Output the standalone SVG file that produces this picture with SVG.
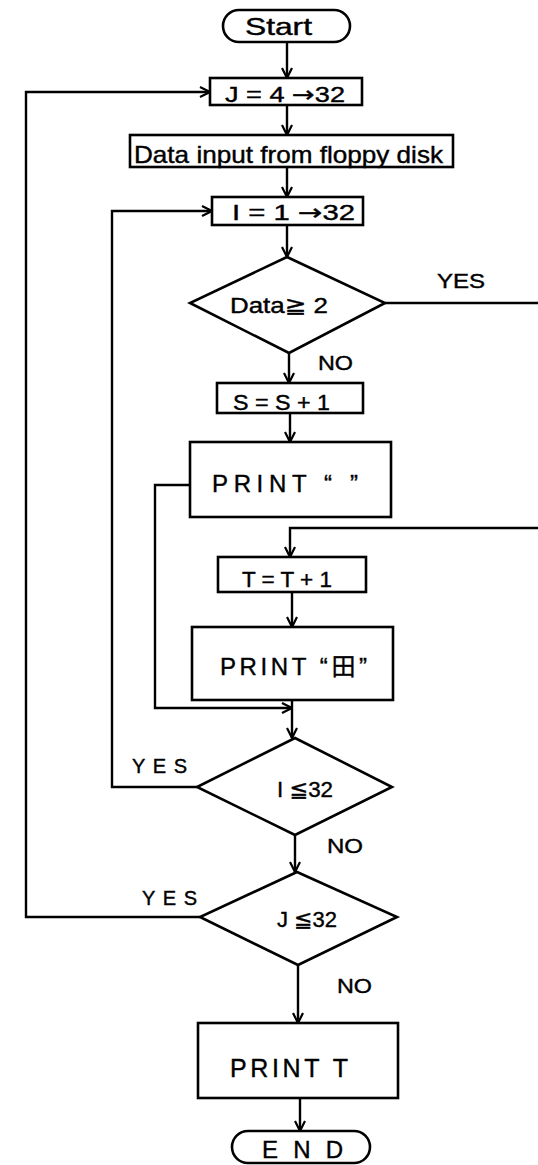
<svg xmlns="http://www.w3.org/2000/svg" width="538" height="1165" viewBox="0 0 538 1165">
<style>
  .shape { fill: #fff; stroke: #000; stroke-width: 2.6; }
  .line { fill: none; stroke: #000; stroke-width: 2.4; }
  text { font-family: "Liberation Sans", "DejaVu Sans", "Noto Sans CJK JP", sans-serif; fill: #000; stroke: #000; stroke-width: 0.4; }
  .t { font-size: 22px; }
  .lbl { font-size: 20px; }
  .ar { font-family: "DejaVu Sans", sans-serif; }
</style>
<defs>
  <marker id="arr" viewBox="0 0 12 12" markerWidth="12" markerHeight="12" refX="11" refY="6" orient="auto" markerUnits="userSpaceOnUse">
    <path d="M1,1 L11,6 L1,11" fill="none" stroke="#000" stroke-width="2.2"/>
  </marker>
</defs>
<rect width="538" height="1165" fill="#fff"/>

<g id="connectors">
  <path class="line" d="M287,42 V78" marker-end="url(#arr)"/>
  <path class="line" d="M287,105 V135" marker-end="url(#arr)"/>
  <path class="line" d="M287,167 V197" marker-end="url(#arr)"/>
  <path class="line" d="M287,225 V257" marker-end="url(#arr)"/>
  <path class="line" d="M289,353 V383" marker-end="url(#arr)"/>
  <path class="line" d="M290,413 V442" marker-end="url(#arr)"/>
  <path class="line" d="M385,303 H542 V528 H290 V557" marker-end="url(#arr)"/>
  <path class="line" d="M190,485 H155 V708 H292" marker-end="url(#arr)"/>
  <path class="line" d="M292,592 V627" marker-end="url(#arr)"/>
  <path class="line" d="M292,700 V738" marker-end="url(#arr)"/>
  <path class="line" d="M295,835 V872" marker-end="url(#arr)"/>
  <path class="line" d="M197,787 H112 V211 H212" marker-end="url(#arr)"/>
  <path class="line" d="M200,917 H26 V92 H210" marker-end="url(#arr)"/>
  <path class="line" d="M298,965 V1023" marker-end="url(#arr)"/>
  <path class="line" d="M300,1098 V1131" marker-end="url(#arr)"/>
  <text class="lbl" x="437" y="288" textLength="48" lengthAdjust="spacingAndGlyphs">YES</text>
  <text class="lbl" x="318" y="370" textLength="35" lengthAdjust="spacingAndGlyphs">NO</text>
  <text class="lbl" x="132" y="773" textLength="55" lengthAdjust="spacing">YES</text>
  <text class="lbl" x="327" y="853" textLength="36" lengthAdjust="spacingAndGlyphs">NO</text>
  <text class="lbl" x="142" y="905" textLength="55" lengthAdjust="spacing">YES</text>
  <text class="lbl" x="337" y="993" textLength="35" lengthAdjust="spacingAndGlyphs">NO</text>
</g>

<g id="start">
  <rect class="shape" x="223" y="10" width="127" height="32" rx="16" ry="16"/>
  <text x="245" y="35" font-size="23" textLength="67" lengthAdjust="spacingAndGlyphs">Start</text>
</g>

<g id="loopJ">
  <rect class="shape" x="210" y="78" width="152" height="27"/>
  <text class="t" x="225" y="102" textLength="120" lengthAdjust="spacingAndGlyphs">J = 4 <tspan class="ar">→</tspan>32</text>
</g>

<g id="dataInput">
  <rect class="shape" x="130" y="135" width="323" height="32"/>
  <text x="134" y="163" font-size="24" textLength="309" lengthAdjust="spacingAndGlyphs">Data input from floppy disk</text>
</g>

<g id="loopI">
  <rect class="shape" x="212" y="197" width="151" height="28"/>
  <text class="t" x="232" y="220" textLength="123" lengthAdjust="spacingAndGlyphs">I = 1 <tspan class="ar">→</tspan>32</text>
</g>

<g id="decisionData">
  <polygon class="shape" points="287,257 385,303 289,353 190,303"/>
  <text class="t" x="230" y="313" textLength="98" lengthAdjust="spacingAndGlyphs">Data≧ 2</text>
</g>

<g id="incS">
  <rect class="shape" x="217" y="383" width="146" height="30"/>
  <text class="t" x="233" y="410" textLength="97" lengthAdjust="spacingAndGlyphs">S = S + 1</text>
</g>

<g id="printBlank">
  <rect class="shape" x="190" y="442" width="201" height="75"/>
  <text x="212" y="492" font-size="24" textLength="146" lengthAdjust="spacing">PRINT “ ”</text>
</g>

<g id="incT">
  <rect class="shape" x="218" y="557" width="148" height="35"/>
  <text class="t" x="242" y="587" textLength="90" lengthAdjust="spacingAndGlyphs">T = T + 1</text>
</g>

<g id="printBlock">
  <rect class="shape" x="192" y="627" width="201" height="73"/>
  <text x="220" y="675" font-size="24" textLength="147" lengthAdjust="spacing">PRINT “田”</text>
</g>

<g id="decisionI">
  <polygon class="shape" points="295,738 392,787 295,835 197,787"/>
  <text class="t" x="277" y="797" textLength="56" lengthAdjust="spacingAndGlyphs">I ≦32</text>
</g>

<g id="decisionJ">
  <polygon class="shape" points="297,872 397,917 298,965 200,917"/>
  <text class="t" x="277" y="927" textLength="60" lengthAdjust="spacingAndGlyphs">J ≦32</text>
</g>

<g id="printT">
  <rect class="shape" x="198" y="1023" width="200" height="75"/>
  <text x="230" y="1077" font-size="25" textLength="118" lengthAdjust="spacing">PRINT T</text>
</g>

<g id="end">
  <rect class="shape" x="232" y="1131" width="138" height="32" rx="16" ry="16"/>
  <text x="262" y="1158" font-size="24" textLength="81" lengthAdjust="spacing">E N D</text>
</g>
</svg>
